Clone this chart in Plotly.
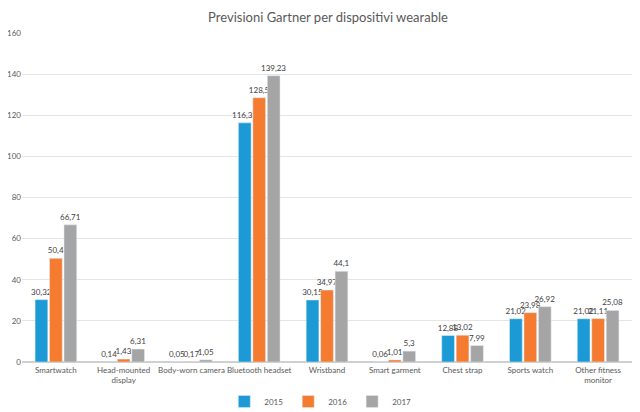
import plotly.graph_objects as go

categories = ["Smartwatch", "Head-mounted<br>display", "Body-worn camera", "Bluetooth headset",
              "Wristband", "Smart garment", "Chest strap", "Sports watch", "Other fitness<br>monitor"]
v2015 = [30.32, 0.14, 0.05, 116.32, 30.15, 0.06, 12.88, 21.02, 21.02]
v2016 = [50.4, 1.43, 0.17, 128.5, 34.97, 1.01, 13.02, 23.98, 21.11]
v2017 = [66.71, 6.31, 1.05, 139.23, 44.1, 5.3, 7.99, 26.92, 25.08]
series_names = ["2015", "2016", "2017"]
colors = ["#1B9AD6", "#F47B30", "#A5A5A5"]
yticks = [0, 20, 40, 60, 80, 100, 120, 140, 160]

def fmt(v):
    s = ("%.2f" % v).rstrip("0").rstrip(".")
    return s.replace(".", ",")

fig = go.Figure()
for name, vals, c in zip(series_names, [v2015, v2016, v2017], colors):
    fig.add_trace(go.Bar(
        x=categories, y=vals, name=name, marker_color=c,
        text=[fmt(v) for v in vals], textposition="outside", constraintext="none",
        textfont=dict(size=8, color="#404040"), cliponaxis=False,
    ))

fig.update_layout(
    width=640, height=412,
    margin=dict(l=14, r=16, t=25, b=58, autoexpand=False),
    paper_bgcolor="white", plot_bgcolor="white",
    font=dict(family="Lato, Open Sans, sans-serif", color="#595959"),
    title=dict(text="Previsioni Gartner per dispositivi wearable", x=0.5, xanchor="center",
               y=0.978, yanchor="middle", font=dict(size=13, color="#595959")),
    barmode="group", bargap=0.36, bargroupgap=0.12,
    showlegend=True,
    legend=dict(orientation="h", x=0.489, xanchor="center", y=-0.12, yanchor="middle",
                font=dict(size=8, color="#595959"), traceorder="normal"),
)
fig.update_yaxes(range=[0, 160], tickvals=yticks, showgrid=True, gridcolor="#E4E4E4",
                 zeroline=True, zerolinecolor="#D0D0D0", tickfont=dict(size=8, color="#595959"),
                 ticks="", showline=False, automargin=False, ticklabelstandoff=0)
fig.update_xaxes(tickfont=dict(size=8, color="#595959"), showline=True, linecolor="#D0D0D0",
                 ticks="", tickangle=0, automargin=False)

fig.write_html("out.html")
